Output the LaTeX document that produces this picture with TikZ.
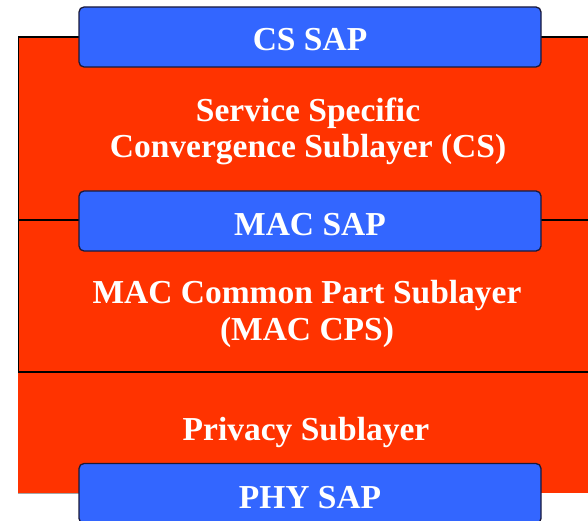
\documentclass[tikz,border=0pt]{standalone}
\usepackage{fontspec}
\setmainfont{Liberation Serif}
\definecolor{layerred}{HTML}{FF3300}
\definecolor{sapblue}{HTML}{3366FF}
\definecolor{sapedge}{HTML}{1A1A3A}
\tikzset{
  layertext/.style={text=white, font=\fontsize{33.5}{37}\selectfont\bfseries, align=center, inner sep=0pt},
  sapbox/.style={fill=sapblue, draw=sapedge, line width=1.3pt, rounded corners=5pt,
    minimum width=462pt, minimum height=60pt, inner sep=0pt, text=white,
    font=\fontsize{33.5}{37}\selectfont\bfseries},
  border/.style={draw=black, line width=1.6pt}
}
\begin{document}
\begin{tikzpicture}[x=1pt, y=-1pt]
  \useasboundingbox (0,0) rectangle (588,521);
  % red protocol stack body
  \fill[layerred] (18,37) rectangle (588,493);
  \draw[gray!70, line width=0.8pt] (18,493) -- (541,493);
  % layer borders
  \draw[border] (18.5,372) -- (18.5,37) -- (588,37);
  \draw[border] (18,220) -- (588,220);
  \draw[border] (18,372) -- (588,372);
  % service access points
  \node[sapbox] (cssap)  at (310,37)  {};
  \node[sapbox] (macsap) at (310,221) {};
  \node[sapbox] (physap) at (310,493.5) {};
  \node[layertext, anchor=base] (cssapt)  at (310,51)  {CS SAP};
  \node[layertext, anchor=base] (macsapt) at (310,235) {MAC SAP};
  \node[layertext, anchor=base] (physapt) at (310,508) {PHY SAP};
  % sublayer names
  \node[layertext, anchor=base] (cs1) at (308,122) {Service Specific};
  \node[layertext, anchor=base] (cs2) at (308,158) {Convergence Sublayer (CS)};
  \node[layertext, anchor=base] (cps1) at (307,303) {MAC Common Part Sublayer};
  \node[layertext, anchor=base] (cps2) at (307,340) {(MAC CPS)};
  \node[layertext, anchor=base] (priv) at (306,440) {Privacy Sublayer};
\end{tikzpicture}
\end{document}
